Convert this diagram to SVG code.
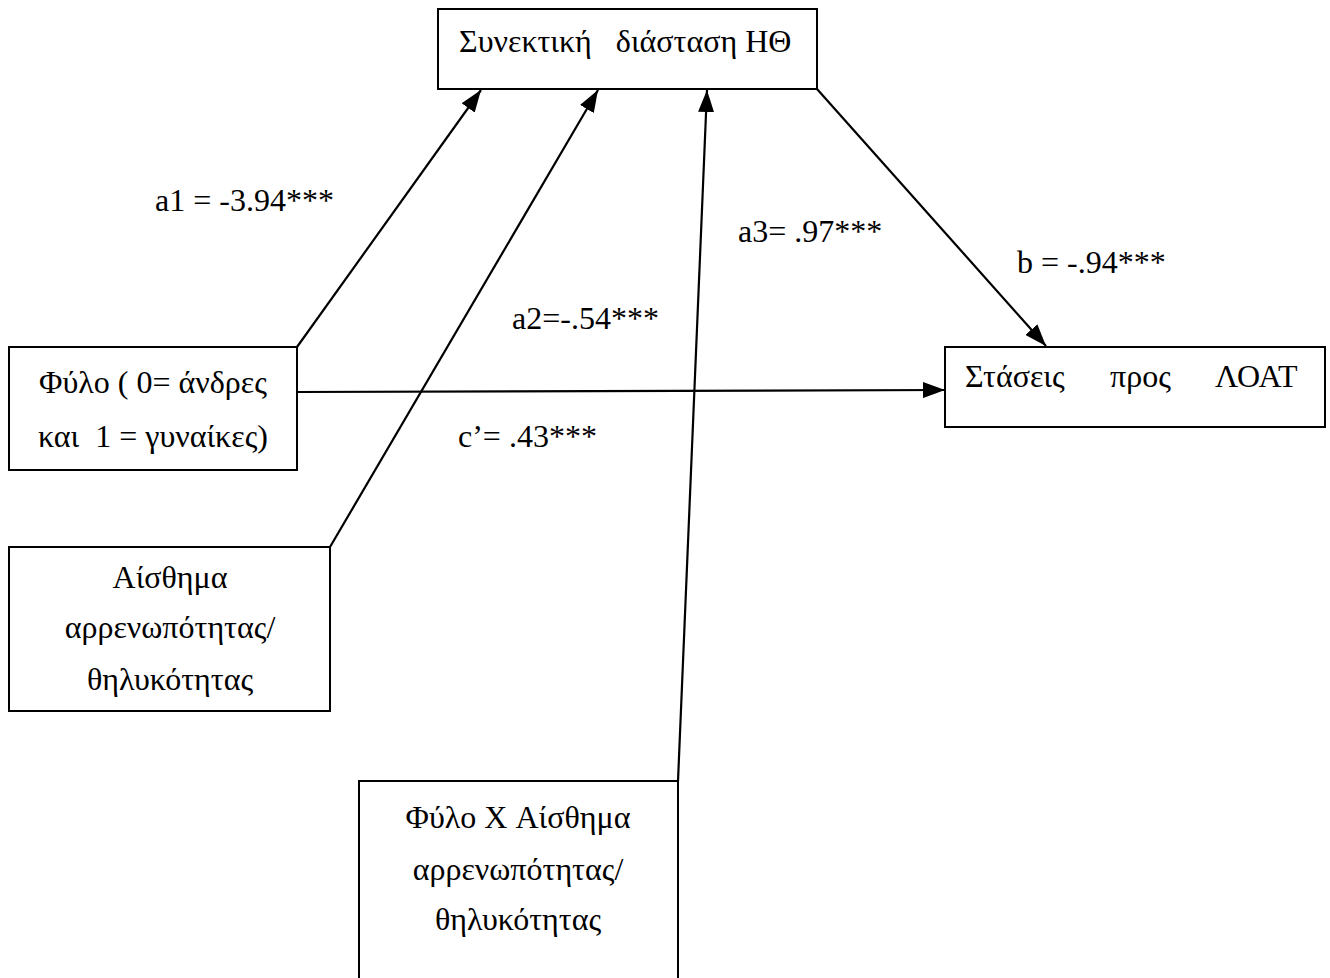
<svg xmlns="http://www.w3.org/2000/svg" width="1330" height="978" viewBox="0 0 1330 978">
<style>
.box{fill:#fff;stroke:#000;stroke-width:2}
.t{font-family:"Liberation Serif","Times New Roman",serif;font-size:32px;fill:#000}
.c{text-anchor:middle}
.e{stroke:#000;stroke-width:2.2;fill:none;marker-end:url(#ah)}
</style>
<defs>
<marker id="ah" markerUnits="userSpaceOnUse" markerWidth="22" markerHeight="16" viewBox="0 0 22 16" refX="22" refY="8" orient="auto">
<path d="M0,0 L22,8 L0,16 Z" fill="#000"/>
</marker>
</defs>
<rect width="1330" height="978" fill="#fff"/>
<g id="connectors">
<line class="e" x1="297" y1="347" x2="481" y2="90"/>
<line class="e" x1="330" y1="547" x2="598" y2="90"/>
<line class="e" x1="678" y1="781" x2="707" y2="90"/>
<line class="e" x1="817" y1="89" x2="1046" y2="346"/>
<line class="e" x1="297" y1="392" x2="945" y2="390"/>
</g>
<g id="n_top">
<rect class="box" x="438" y="9" width="379" height="80"/>
<text class="t" x="459" y="52" xml:space="preserve">Συνεκτική   διάσταση ΗΘ</text>
</g>
<g id="n_gender">
<rect class="box" x="9" y="347" width="288" height="123"/>
<text class="t c" x="153" y="393">Φύλο ( 0= άνδρες</text>
<text class="t c" x="153" y="447" xml:space="preserve">και  1 = γυναίκες)</text>
</g>
<g id="n_feeling">
<rect class="box" x="9" y="547" width="321" height="164"/>
<text class="t c" x="170" y="588">Αίσθημα</text>
<text class="t c" x="170" y="638">αρρενωπότητας/</text>
<text class="t c" x="170" y="690">θηλυκότητας</text>
</g>
<g id="n_interaction">
<rect class="box" x="359" y="781" width="319" height="210"/>
<text class="t c" x="518" y="828">Φύλο X Αίσθημα</text>
<text class="t c" x="518" y="880">αρρενωπότητας/</text>
<text class="t c" x="518" y="930">θηλυκότητας</text>
</g>
<g id="n_attitudes">
<rect class="box" x="945" y="347" width="380" height="80"/>
<text class="t" x="965" y="387">Στάσεις</text>
<text class="t" x="1110" y="387">προς</text>
<text class="t" x="1215" y="387">ΛΟΑΤ</text>
</g>
<g id="labels">
<text class="t" x="155" y="211">a1 = -3.94***</text>
<text class="t" x="512" y="329">a2=-.54***</text>
<text class="t" x="738" y="242">a3= .97***</text>
<text class="t" x="1017" y="273">b = -.94***</text>
<text class="t" x="458" y="447">c’= .43***</text>
</g>
</svg>
